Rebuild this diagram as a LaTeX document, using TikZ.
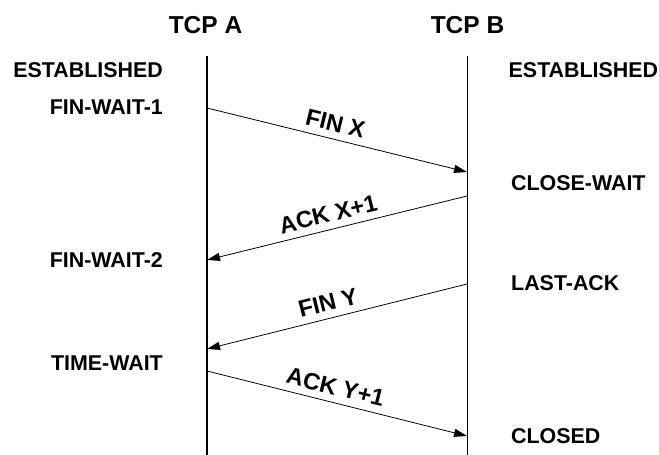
\documentclass[tikz,border=0pt]{standalone}
\usepackage{fontspec}
\setmainfont{Liberation Sans}
\usetikzlibrary{arrows.meta}
\begin{document}
\begin{tikzpicture}[x=1pt,y=-1pt,
  every node/.style={font=\fontsize{21.4}{26}\selectfont\bfseries, inner sep=0pt, text height=15.4pt, text depth=0pt},
  head/.style={font=\fontsize{24.5}{29}\selectfont\bfseries, text height=17.5pt},
  lstate/.style={anchor=east},
  rstate/.style={anchor=west},
  life/.style={line width=1.3pt},
  msg/.style={line width=0.8pt, -{Triangle[length=13pt,width=8pt]}},
  lab/.style={pos=0.48, sloped, above=7pt, font=\fontsize{23.5}{28}\selectfont\bfseries, text height=16.8pt}
]
\useasboundingbox (0,0) rectangle (659,455);
\node[head] (tcpa) at (205.5,25) {TCP A};
\node[head] (tcpb) at (467.5,25) {TCP B};
\coordinate (atop) at (207,56);
\coordinate (abot) at (207,455);
\coordinate (btop) at (467.5,56);
\coordinate (bbot) at (467.5,455);
\draw[life] (atop) -- (abot);
\draw[life] (btop) -- (bbot);

\node[lstate] (ae) at (163,70) {ESTABLISHED};
\node[lstate] (af1) at (163,106.5) {FIN-WAIT-1};
\node[lstate] (af2) at (163,260) {FIN-WAIT-2};
\node[lstate] (atw) at (163,362.5) {TIME-WAIT};
\node[rstate] (be) at (508.5,70) {ESTABLISHED};
\node[rstate] (bcw) at (511,183) {CLOSE-WAIT};
\node[rstate] (bla) at (511,282.5) {LAST-ACK};
\node[rstate] (bcl) at (511,435.5) {CLOSED};

\coordinate (a1) at (207,108);
\coordinate (b1) at (467,172);
\coordinate (b2) at (467,196);
\coordinate (a2) at (207,260);
\coordinate (b3) at (467,284);
\coordinate (a3) at (207,349);
\coordinate (a4) at (207,371);
\coordinate (b4) at (467,436);

\draw[msg] (a1) -- node[lab] (l1) {FIN X} (b1);
\draw[msg] (b2) -- node[lab, pos=0.52] (l2) {ACK X+1} (a2);
\draw[msg] (b3) -- node[lab, pos=0.52] (l3) {FIN Y} (a3);
\draw[msg] (a4) -- node[lab] (l4) {ACK Y+1} (b4);
\end{tikzpicture}
\end{document}
